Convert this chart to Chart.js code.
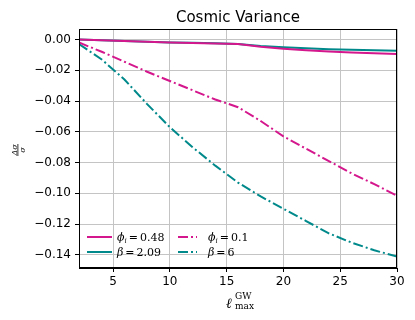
<!DOCTYPE html>
<html><head><meta charset="utf-8">
<script src="https://cdn.jsdelivr.net/npm/chart.js@4/dist/chart.umd.min.js"></script>
<style>html,body{margin:0;padding:0;background:#fff}#wrap{width:415px;height:320px}</style>
</head><body><div id="wrap"><canvas id="c" width="415" height="320"></canvas></div>
<script>
const titleText = 'Cosmic Variance';
const ellMax = [2,4,6,8,10,12,14,16,18,20,22,24,26,28,30];
const phi048 = [0,-0.0005,-0.001,-0.0015,-0.002,-0.0023,-0.0027,-0.003,-0.0048,-0.006,-0.007,-0.0078,-0.0085,-0.009,-0.0095];
const beta209 = [0,-0.0005,-0.001,-0.0015,-0.002,-0.0022,-0.0025,-0.003,-0.0042,-0.005,-0.0057,-0.0063,-0.0067,-0.007,-0.0073];
const phi01 = [-0.002,-0.008,-0.0145,-0.021,-0.027,-0.033,-0.039,-0.044,-0.053,-0.063,-0.071,-0.079,-0.087,-0.094,-0.1015];
const beta6 = [-0.003,-0.013,-0.026,-0.042,-0.057,-0.070,-0.082,-0.093,-0.102,-0.110,-0.118,-0.126,-0.132,-0.137,-0.141];
const xTicks = [5,10,15,20,25,30];
const yTicks = [0,-0.02,-0.04,-0.06,-0.08,-0.10,-0.12,-0.14];
const seriesNames = [['ϕ','i','0.48'],['β','','2.09'],['ϕ','i','0.1'],['β','','6']];

const MAG = '#d4178c', TEAL = '#00898b';
const DASHDOT = [10,3,2,3];
const pts = arr => ellMax.map((x,i)=>({x:x,y:arr[i]}));
const styles = [
  {c:MAG, d:[]},{c:TEAL,d:[]},{c:MAG,d:DASHDOT},{c:TEAL,d:DASHDOT}
];
const allSeries = [phi048, beta209, phi01, beta6];
const datasets = allSeries.map((s,i)=>({
  data: pts(s), borderColor: styles[i].c, borderWidth: 2, borderDash: styles[i].d,
  pointRadius: 0, tension: 0, fill: false, borderCapStyle:'butt'
}));

const fmt = v => { const s = Math.abs(v).toFixed(2); return (v < -1e-9 ? '\u2212' : '') + s; };

const deco = {
  id: 'deco',
  afterDraw(chart){
    const ctx = chart.ctx, a = chart.chartArea;
    ctx.save();
    ctx.strokeStyle = '#000'; ctx.lineWidth = 1;
    ctx.strokeRect(Math.round(a.left)+0.5, Math.round(a.top)+0.5, Math.round(a.right-a.left)-1, Math.round(a.bottom-a.top)-1);
    ctx.fillStyle = '#000';
    ctx.font = '15px "DejaVu Sans"'; ctx.textAlign = 'center'; ctx.textBaseline = 'alphabetic';
    ctx.fillText(titleText, (a.left+a.right)/2, 21.5);
    ctx.textAlign = 'left';
    ctx.font = 'italic 14px "DejaVu Serif"';
    ctx.fillText('\u2113', 226, 308);
    ctx.font = '9px "DejaVu Serif"';
    ctx.fillText('GW', 235, 299);
    ctx.fillText('max', 235, 309);
    ctx.save();
    ctx.translate(18, 150); ctx.rotate(-Math.PI/2);
    ctx.textAlign = 'center';
    ctx.font = 'italic 8px "DejaVu Serif"';
    ctx.textBaseline = 'alphabetic';
    ctx.fillText('\u0394\u03c3', 0, -1.5);
    ctx.fillRect(-6, -0.5, 12, 0.8);
    ctx.textBaseline = 'top';
    ctx.fillText('\u03c3', 0, 1);
    ctx.restore();
    const cols = [[87,112,117],[178,197,208]];
    const rows = [237, 252];
    seriesNames.forEach((n,i)=>{
      const col = cols[Math.floor(i/2)], row = rows[i%2];
      ctx.save();
      ctx.strokeStyle = styles[i].c; ctx.lineWidth = 2; ctx.setLineDash(styles[i].d); ctx.lineCap='butt';
      ctx.beginPath(); ctx.moveTo(col[0], row); ctx.lineTo(col[1], row); ctx.stroke();
      ctx.restore();
      let x = col[2]; const base = row + 4;
      ctx.textAlign = 'left'; ctx.textBaseline = 'alphabetic';
      ctx.font = 'italic 11px "DejaVu Serif"';
      ctx.fillText(n[0], x, base); x += ctx.measureText(n[0]).width;
      if (n[1]) { ctx.font = 'italic 7px "DejaVu Serif"'; ctx.fillText(n[1], x, base+2); x += ctx.measureText(n[1]).width; }
      ctx.font = '11px "DejaVu Serif"';
      x += 2; ctx.fillText('=', x, base); x += ctx.measureText('=').width + 2;
      ctx.fillText(n[2], x, base);
    });
    ctx.restore();
  }
};

new Chart(document.getElementById('c'), {
  type: 'line',
  data: { datasets },
  options: {
    responsive: false, animation: false, devicePixelRatio: 1,
    layout: { padding: { top: 29, right: 18, left: 0, bottom: 0 } },
    plugins: { legend: { display: false }, title: { display: false }, tooltip: { enabled: false } },
    scales: {
      x: {
        type: 'linear', min: 2, max: 30,
        afterBuildTicks: ax => { ax.ticks = xTicks.map(v=>({value:v})); },
        afterFit: ax => { ax.height = 52; },
        grid: { color: '#c4c4c4', lineWidth: 1, tickColor: '#000', tickLength: 4 },
        border: { display: true, color: '#000' },
        ticks: { font: { family: 'DejaVu Sans', size: 12 }, color: '#000', padding: 3, maxRotation: 0, callback: v => String(v) }
      },
      y: {
        type: 'linear', min: -0.1485, max: 0.0068,
        afterBuildTicks: ax => { ax.ticks = yTicks.map(v=>({value:v})); },
        afterFit: ax => { ax.width = 79; },
        grid: { color: '#c4c4c4', lineWidth: 1, tickColor: '#000', tickLength: 4 },
        border: { display: true, color: '#000' },
        ticks: { font: { family: 'DejaVu Sans', size: 12 }, color: '#000', padding: 4, callback: v => fmt(v) }
      }
    }
  },
  plugins: [deco]
});
</script></body></html>
